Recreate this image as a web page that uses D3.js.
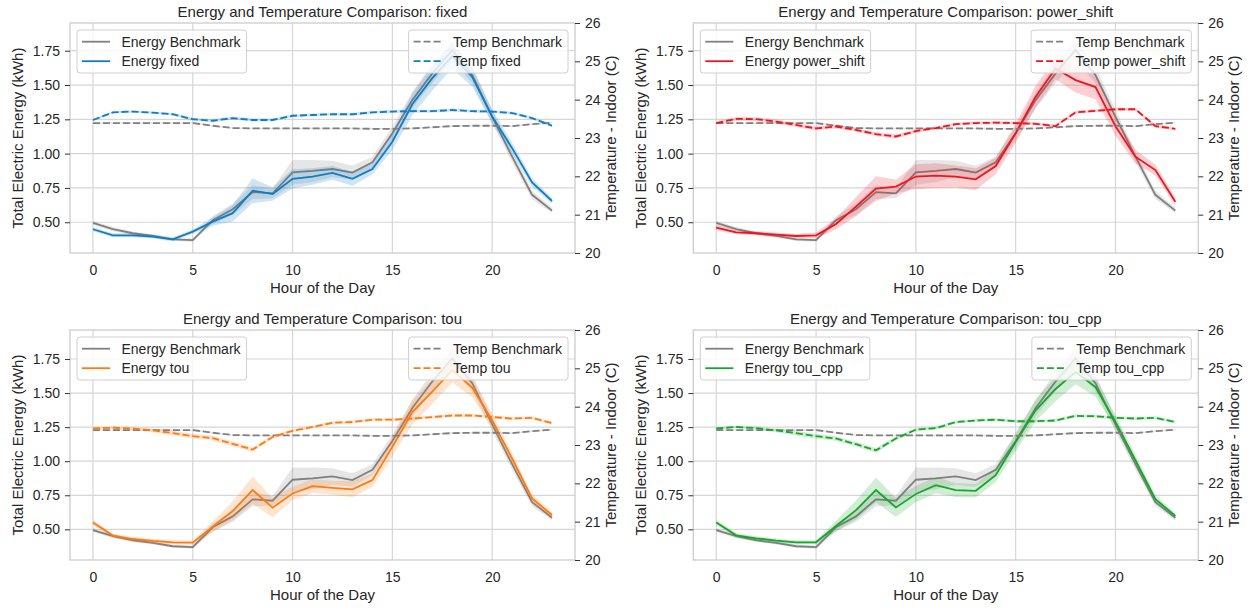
<!DOCTYPE html>
<html>
<head>
<meta charset="utf-8">
<script src="https://cdn.jsdelivr.net/npm/d3@7"></script>
<style>
  body { margin: 0; background: #fff; }
  svg { font-family: "Liberation Sans", Arial, sans-serif; }
  text { fill: #262626; }
</style>
</head>
<body>
<div id="chart"></div>
<script>
// hours of the day
var hours = [0, 1, 2, 3, 4, 5, 6, 7, 8, 9, 10, 11, 12, 13, 14, 15, 16, 17, 18, 19, 20, 21, 22, 23];
var xTicks = [0, 5, 10, 15, 20];
var energyTicks = [0.5, 0.75, 1.0, 1.25, 1.5, 1.75];
var tempTicks = [20, 21, 22, 23, 24, 25, 26];

// benchmark series (same on every panel)
var energyBenchmark = [0.495, 0.45, 0.42, 0.40, 0.376, 0.37, 0.515, 0.595, 0.72, 0.71, 0.864, 0.874, 0.888, 0.862, 0.937, 1.148, 1.39, 1.585, 1.755, 1.573, 1.27, 0.978, 0.70, 0.585];
var energyBenchmarkCi = [0.015, 0.015, 0.012, 0.012, 0.012, 0.012, 0.03, 0.04, 0.05, 0.035, 0.09, 0.08, 0.06, 0.05, 0.04, 0.05, 0.06, 0.07, 0.07, 0.06, 0.05, 0.04, 0.03, 0.02];
var tempBenchmark = [23.39, 23.39, 23.39, 23.39, 23.39, 23.39, 23.32, 23.26, 23.25, 23.25, 23.25, 23.25, 23.25, 23.25, 23.24, 23.24, 23.25, 23.28, 23.31, 23.32, 23.32, 23.31, 23.36, 23.40];
var tempBenchmarkCi = [0.02, 0.02, 0.02, 0.02, 0.02, 0.02, 0.02, 0.02, 0.02, 0.02, 0.02, 0.02, 0.02, 0.02, 0.02, 0.02, 0.02, 0.02, 0.02, 0.02, 0.02, 0.02, 0.02, 0.02];

// fixed
var energyFixed = [0.449, 0.405, 0.405, 0.396, 0.376, 0.432, 0.505, 0.566, 0.73, 0.706, 0.816, 0.833, 0.86, 0.816, 0.888, 1.087, 1.36, 1.55, 1.71, 1.56, 1.27, 1.04, 0.79, 0.655];
var energyFixedCi = [0.015, 0.015, 0.015, 0.015, 0.015, 0.015, 0.03, 0.06, 0.09, 0.05, 0.07, 0.06, 0.05, 0.05, 0.04, 0.06, 0.08, 0.09, 0.09, 0.07, 0.05, 0.04, 0.03, 0.02];
var tempFixed = [23.47, 23.67, 23.69, 23.66, 23.62, 23.49, 23.45, 23.52, 23.47, 23.47, 23.58, 23.60, 23.62, 23.62, 23.67, 23.69, 23.70, 23.70, 23.73, 23.70, 23.69, 23.65, 23.52, 23.32];
var tempFixedCi = [0.03, 0.03, 0.03, 0.03, 0.03, 0.04, 0.04, 0.04, 0.04, 0.04, 0.04, 0.04, 0.04, 0.04, 0.04, 0.04, 0.04, 0.04, 0.04, 0.04, 0.04, 0.04, 0.04, 0.04];

// power_shift
var energyPowerShift = [0.461, 0.427, 0.42, 0.41, 0.40, 0.405, 0.488, 0.614, 0.745, 0.76, 0.833, 0.84, 0.833, 0.813, 0.91, 1.148, 1.415, 1.62, 1.536, 1.485, 1.2, 0.978, 0.88, 0.65];
var energyPowerShiftCi = [0.02, 0.015, 0.015, 0.015, 0.015, 0.02, 0.04, 0.07, 0.09, 0.05, 0.09, 0.09, 0.08, 0.08, 0.06, 0.07, 0.08, 0.08, 0.09, 0.09, 0.07, 0.05, 0.04, 0.03];
var tempPowerShift = [23.39, 23.50, 23.49, 23.43, 23.34, 23.25, 23.30, 23.21, 23.10, 23.04, 23.18, 23.26, 23.36, 23.39, 23.40, 23.39, 23.37, 23.31, 23.67, 23.71, 23.75, 23.75, 23.31, 23.24];
var tempPowerShiftCi = [0.04, 0.05, 0.05, 0.05, 0.05, 0.05, 0.05, 0.05, 0.05, 0.05, 0.05, 0.04, 0.04, 0.04, 0.04, 0.04, 0.04, 0.04, 0.04, 0.04, 0.04, 0.04, 0.04, 0.04];

// tou
var energyTou = [0.551, 0.454, 0.429, 0.415, 0.405, 0.402, 0.52, 0.634, 0.788, 0.659, 0.763, 0.817, 0.805, 0.793, 0.861, 1.105, 1.36, 1.51, 1.668, 1.54, 1.30, 1.02, 0.727, 0.605];
var energyTouCi = [0.02, 0.015, 0.015, 0.015, 0.015, 0.015, 0.04, 0.07, 0.1, 0.07, 0.05, 0.05, 0.05, 0.06, 0.05, 0.07, 0.09, 0.09, 0.09, 0.07, 0.05, 0.04, 0.03, 0.02];
var tempTou = [23.43, 23.45, 23.43, 23.38, 23.31, 23.23, 23.18, 23.03, 22.88, 23.21, 23.37, 23.47, 23.58, 23.60, 23.66, 23.66, 23.69, 23.73, 23.77, 23.77, 23.73, 23.69, 23.71, 23.57];
var tempTouCi = [0.03, 0.03, 0.04, 0.05, 0.06, 0.06, 0.06, 0.06, 0.06, 0.05, 0.04, 0.04, 0.04, 0.04, 0.04, 0.04, 0.04, 0.04, 0.04, 0.04, 0.04, 0.04, 0.04, 0.04];

// tou_cpp
var energyTouCpp = [0.551, 0.456, 0.434, 0.417, 0.405, 0.405, 0.524, 0.641, 0.788, 0.661, 0.759, 0.824, 0.788, 0.783, 0.898, 1.141, 1.373, 1.53, 1.654, 1.544, 1.288, 1.007, 0.722, 0.598];
var energyTouCppCi = [0.02, 0.015, 0.015, 0.015, 0.015, 0.015, 0.04, 0.07, 0.09, 0.07, 0.06, 0.06, 0.05, 0.05, 0.05, 0.07, 0.08, 0.09, 0.09, 0.07, 0.05, 0.04, 0.03, 0.02];
var tempTouCpp = [23.43, 23.47, 23.44, 23.38, 23.31, 23.23, 23.17, 23.02, 22.86, 23.17, 23.40, 23.44, 23.60, 23.64, 23.66, 23.62, 23.62, 23.64, 23.76, 23.75, 23.71, 23.69, 23.71, 23.60];
var tempTouCppCi = [0.03, 0.03, 0.04, 0.05, 0.06, 0.06, 0.06, 0.06, 0.06, 0.05, 0.04, 0.04, 0.04, 0.04, 0.04, 0.04, 0.04, 0.04, 0.04, 0.04, 0.04, 0.04, 0.04, 0.04];

var colors = ["#0f7dc2", "#f0141e", "#ff7a0f", "#17a52b"];
var benchColor = "#808080";

var panels = [
  { name: "fixed", energy: energyFixed, energyCi: energyFixedCi, temp: tempFixed, tempCi: tempFixedCi },
  { name: "power_shift", energy: energyPowerShift, energyCi: energyPowerShiftCi, temp: tempPowerShift, tempCi: tempPowerShiftCi },
  { name: "tou", energy: energyTou, energyCi: energyTouCi, temp: tempTou, tempCi: tempTouCi },
  { name: "tou_cpp", energy: energyTouCpp, energyCi: energyTouCppCi, temp: tempTouCpp, tempCi: tempTouCppCi }
];

// Width and height
var w = 1250;
var h = 611;
var plotW = 505;
var plotH = 230;
var colLeft = [70, 693.3];
var rowTop = [23, 330];
var energyDomains = [[0.276, 1.952], [0.275, 1.963]];
var dash = "7,3";

var svg = d3.select("#chart").append("svg").attr("width", w).attr("height", h);

panels.forEach(function (p, i) {
  var col = i % 2, row = Math.floor(i / 2);
  var color = colors[i];
  var g = svg.append("g").attr("transform", "translate(" + colLeft[col] + "," + rowTop[row] + ")");

  var xScale = d3.scaleLinear().domain([-1.15, 24.15]).range([0, plotW]);
  var yScale = d3.scaleLinear().domain(energyDomains[row]).range([plotH, 0]);
  var tScale = d3.scaleLinear().domain([20, 26]).range([plotH, 0]);

  // grid
  g.selectAll(".vgrid").data(xTicks).enter().append("line")
    .attr("x1", function (d) { return xScale(d); }).attr("x2", function (d) { return xScale(d); })
    .attr("y1", 0).attr("y2", plotH)
    .attr("stroke", "#d6d6d6").attr("stroke-width", 1.2);
  g.selectAll(".hgrid").data(energyTicks).enter().append("line")
    .attr("x1", 0).attr("x2", plotW)
    .attr("y1", function (d) { return yScale(d); }).attr("y2", function (d) { return yScale(d); })
    .attr("stroke", "#d6d6d6").attr("stroke-width", 1.2);

  var band = function (scale, vals, ci) {
    return d3.area()
      .x(function (d, k) { return xScale(hours[k]); })
      .y0(function (d, k) { return scale(vals[k] - ci[k]); })
      .y1(function (d, k) { return scale(vals[k] + ci[k]); })(vals);
  };
  var path = function (scale, vals) {
    return d3.line()
      .x(function (d, k) { return xScale(hours[k]); })
      .y(function (d) { return scale(d); })(vals);
  };

  // energy on left axis
  g.append("path").attr("d", band(yScale, energyBenchmark, energyBenchmarkCi))
    .attr("fill", benchColor).attr("opacity", 0.2);
  g.append("path").attr("d", path(yScale, energyBenchmark))
    .attr("fill", "none").attr("stroke", benchColor).attr("stroke-width", 1.8);
  g.append("path").attr("d", band(yScale, p.energy, p.energyCi))
    .attr("fill", color).attr("opacity", 0.2);
  g.append("path").attr("d", path(yScale, p.energy))
    .attr("fill", "none").attr("stroke", color).attr("stroke-width", 1.8);

  // temperature on right axis
  g.append("path").attr("d", band(tScale, tempBenchmark, tempBenchmarkCi))
    .attr("fill", benchColor).attr("opacity", 0.2);
  g.append("path").attr("d", path(tScale, tempBenchmark))
    .attr("fill", "none").attr("stroke", benchColor).attr("stroke-width", 1.8)
    .attr("stroke-dasharray", dash);
  g.append("path").attr("d", band(tScale, p.temp, p.tempCi))
    .attr("fill", color).attr("opacity", 0.2);
  g.append("path").attr("d", path(tScale, p.temp))
    .attr("fill", "none").attr("stroke", color).attr("stroke-width", 1.8)
    .attr("stroke-dasharray", dash);

  // frame
  g.append("rect").attr("width", plotW).attr("height", plotH)
    .attr("fill", "none").attr("stroke", "#cccccc").attr("stroke-width", 1.3);

  // axes
  var xAxis = g.append("g").attr("transform", "translate(0," + plotH + ")")
    .call(d3.axisBottom(xScale).tickValues(xTicks).tickSize(0).tickPadding(12));
  var yAxis = g.append("g")
    .call(d3.axisLeft(yScale).tickValues(energyTicks).tickFormat(d3.format(".2f")).tickSize(5).tickPadding(5));
  var tAxis = g.append("g").attr("transform", "translate(" + plotW + ",0)")
    .call(d3.axisRight(tScale).tickValues(tempTicks).tickFormat(d3.format("d")).tickSize(5).tickPadding(5));
  [xAxis, yAxis, tAxis].forEach(function (a) {
    a.select(".domain").remove();
    a.selectAll("text").attr("font-size", 14).attr("font-family", null).style("fill", "#262626");
    a.selectAll("line").attr("stroke", "#333");
  });

  // labels
  g.append("text").attr("x", plotW / 2).attr("y", -6).attr("text-anchor", "middle")
    .attr("font-size", 15).text("Energy and Temperature Comparison: " + p.name);
  g.append("text").attr("x", plotW / 2).attr("y", plotH + 40).attr("text-anchor", "middle")
    .attr("font-size", 15).text("Hour of the Day");
  g.append("text").attr("transform", "translate(-47," + plotH / 2 + ") rotate(-90)")
    .attr("text-anchor", "middle").attr("font-size", 15).text("Total Electric Energy (kWh)");
  g.append("text").attr("transform", "translate(" + (plotW + 41) + "," + plotH / 2 + ") rotate(-90)")
    .attr("text-anchor", "middle").attr("font-size", 15).text("Temperature - Indoor (C)");

  // legends
  drawLegend(g, "left", [
    { label: "Energy Benchmark", color: benchColor, dash: null },
    { label: "Energy " + p.name, color: color, dash: null }
  ]);
  drawLegend(g, "right", [
    { label: "Temp Benchmark", color: benchColor, dash: dash },
    { label: "Temp " + p.name, color: color, dash: dash }
  ]);
});

function drawLegend(g, side, items) {
  var lg = g.append("g");
  var box = lg.append("rect");
  var maxW = 0;
  items.forEach(function (it, k) {
    var t = lg.append("text").attr("x", 44.5).attr("y", 11.7 + k * 19.5).attr("dy", "0.35em")
      .attr("font-size", 14).text(it.label);
    maxW = Math.max(maxW, t.node().getComputedTextLength());
    lg.append("line").attr("x1", 5).attr("x2", 33)
      .attr("y1", 11.7 + k * 19.5).attr("y2", 11.7 + k * 19.5)
      .attr("stroke", it.color).attr("stroke-width", 1.8)
      .attr("stroke-dasharray", it.dash);
  });
  var bw = maxW + 50.5;
  box.attr("width", bw).attr("height", 43).attr("rx", 3)
    .attr("fill", "white").attr("fill-opacity", 0.8)
    .attr("stroke", "#d0d0d0").attr("stroke-width", 1);
  var x0 = side === "left" ? 7 : plotW - 7 - bw;
  lg.attr("transform", "translate(" + x0 + ",7)");
}
</script>
</body>
</html>
